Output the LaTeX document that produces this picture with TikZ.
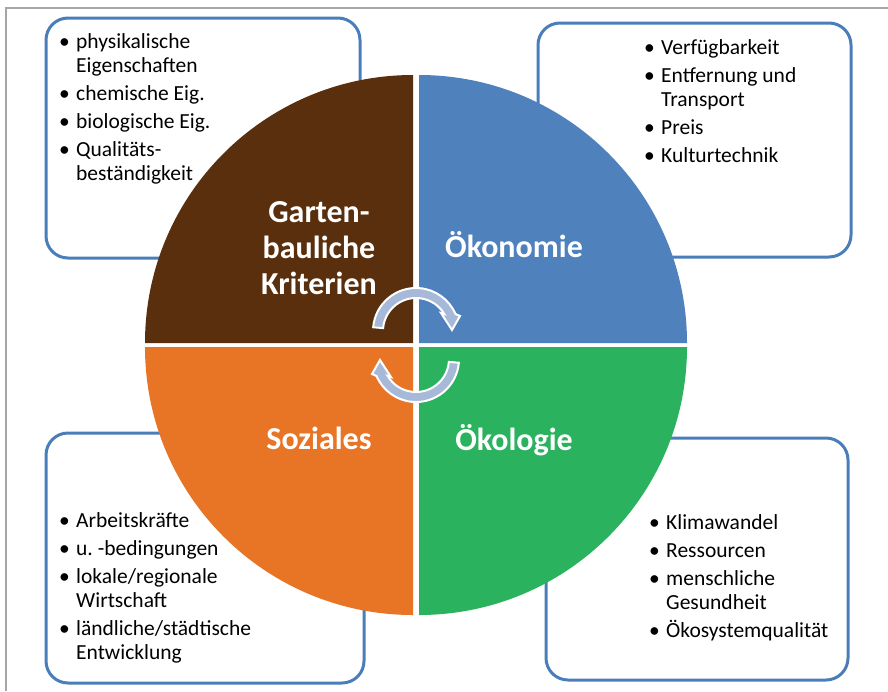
\documentclass[tikz,border=0pt]{standalone}
\usepackage{fontspec}
\setmainfont{Carlito}
\frenchspacing
\definecolor{qbrown}{RGB}{90,47,13}
\definecolor{qblue}{RGB}{79,129,189}
\definecolor{qorange}{RGB}{232,117,38}
\definecolor{qgreen}{RGB}{43,178,94}
\definecolor{boxline}{RGB}{74,126,187}
\definecolor{arrowfill}{RGB}{166,185,216}
\definecolor{framegray}{RGB}{166,166,166}
\newcommand{\lbul}{\makebox[17pt][l]{\textbullet}}
\begin{document}
\begin{tikzpicture}[x=1pt,y=-1pt,
  infobox/.style={draw=boxline, line width=3pt, rounded corners=22pt, fill=white},
  titletext/.style={text=white, font=\fontsize{32}{36}\selectfont\bfseries, inner sep=0pt, anchor=base},
  listtext/.style={font=\fontsize{21.5}{24}\selectfont\frenchspacing, inner sep=0pt, anchor=base west, text=black},
  cycarrow/.style={fill=arrowfill, draw=white, line width=2pt, line join=miter}
]
\useasboundingbox (0,0) rectangle (888,691);
\fill[white] (0,0) rectangle (888,691);
\draw[framegray, line width=1.5pt] (6,691) -- (6,8) -- (888,8);

% boxes behind the circle
\draw[infobox] (46,18) rectangle (360,258);
\draw[infobox] (538,23) rectangle (851,257);
\draw[infobox] (46,433) rectangle (364,683);
\draw[infobox] (546,438) rectangle (848,680);

% quadrants
\fill[qbrown] (413,343) -- (145,343) arc[start angle=180, end angle=270, radius=268] -- cycle;
\fill[qblue] (419,343) -- (419,75) arc[start angle=270, end angle=360, radius=268] -- cycle;
\fill[qgreen] (419,347) -- (687,347) arc[start angle=0, end angle=90, radius=268] -- cycle;
\fill[qorange] (413,347) -- (413,615) arc[start angle=90, end angle=180, radius=268] -- cycle;

% circular arrows
\path[cycarrow] (373.16,327.25) arc[start angle=185, end angle=336.7, radius=43]
  -- (460,316) -- (452,330) -- (441,313) -- (444.29,314.0)
  arc[start angle=329, end angle=185, radius=33] -- cycle;
\begin{scope}[rotate around={180:(416,345)}]
\path[cycarrow] (373.16,327.25) arc[start angle=185, end angle=336.7, radius=43]
  -- (460,316) -- (452,330) -- (441,313) -- (444.29,314.0)
  arc[start angle=329, end angle=185, radius=33] -- cycle;
\end{scope}

% titles
\node[titletext] (garten) at (319,222) {\begin{tabular}[t]{@{}c@{}}Garten-\\bauliche\\Kriterien\end{tabular}};
\node[titletext] (oekonomie) at (514,257) {Ökonomie};
\node[titletext] (soziales) at (319,449) {Soziales};
\node[titletext] (oekologie) at (514,450) {Ökologie};

% lists
\node[listtext] (listgarten) at (59,48) {\begin{tabular}[t]{@{}l@{}l@{}}
\lbul & physikalische\\
 & Eigenschaften\\[4pt]
\lbul & chemische Eig.\\[4pt]
\lbul & biologische Eig.\\[4pt]
\lbul & Qualitäts-\\
 & beständigkeit
\end{tabular}};
\node[listtext] (listoekonomie) at (644,54) {\begin{tabular}[t]{@{}l@{}l@{}}
\lbul & Verfügbarkeit\\[4pt]
\lbul & Entfernung und\\
 & Transport\\[4pt]
\lbul & Preis\\[4pt]
\lbul & Kulturtechnik
\end{tabular}};
\node[listtext] (listsoziales) at (59,527) {\begin{tabular}[t]{@{}l@{}l@{}}
\lbul & Arbeitskräfte\\[4pt]
\lbul & u. -bedingungen\\[4pt]
\lbul & lokale/regionale\\
 & Wirtschaft\\[4pt]
\lbul & ländliche/städtische\\
 & Entwicklung
\end{tabular}};
\node[listtext] (listoekologie) at (649,529) {\begin{tabular}[t]{@{}l@{}l@{}}
\lbul & Klimawandel\\[4pt]
\lbul & Ressourcen\\[4pt]
\lbul & menschliche\\
 & Gesundheit\\[4pt]
\lbul & Ökosystemqualität
\end{tabular}};
\end{tikzpicture}
\end{document}
